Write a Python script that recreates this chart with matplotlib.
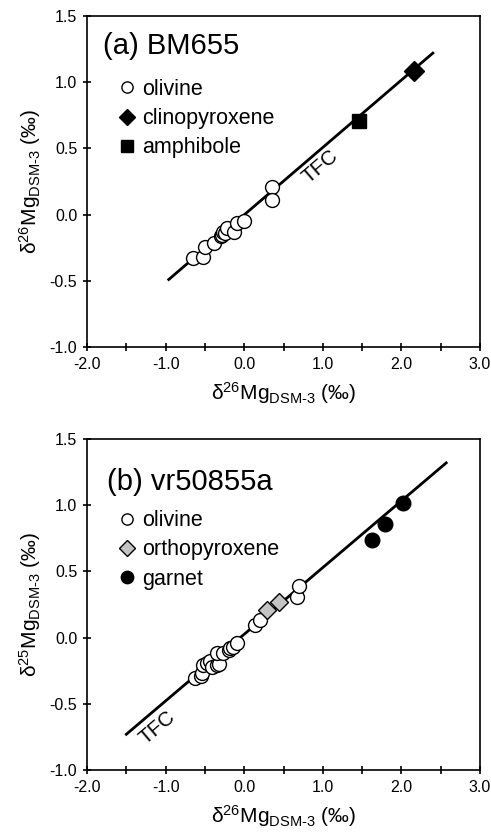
import numpy as np
import matplotlib
matplotlib.use("Agg")
import matplotlib.pyplot as plt
from matplotlib.lines import Line2D

plt.rcParams['font.family'] = ['Liberation Sans', 'DejaVu Sans']
plt.rcParams['mathtext.fontset'] = 'custom'
plt.rcParams['mathtext.rm'] = 'Liberation Sans'
plt.rcParams['mathtext.it'] = 'Liberation Sans:italic'

# ---- (a) BM655 ----
a_ol_x = [-0.648, -0.528, -0.499, -0.384, -0.30, -0.286, -0.266, -0.25, -0.223,
          -0.130, -0.095, -0.003, 0.35, 0.35]
a_ol_y = [-0.330, -0.318, -0.242, -0.217, -0.16, -0.154, -0.129, -0.14, -0.103,
          -0.129, -0.061, -0.046, 0.21, 0.11]
a_cpx_x = [2.165]
a_cpx_y = [1.085]
a_amp_x = [1.465]
a_amp_y = [0.71]
a_tfc_x = [-0.96, 2.40]
a_tfc_y = [-0.49, 1.22]

# ---- (b) vr50855a ----
b_ol_x = [-0.626, -0.55, -0.541, -0.520, -0.477, -0.44, -0.413, -0.350, -0.32, -0.350,
          -0.266, -0.19, -0.181, -0.14, -0.088, 0.137, 0.20, 0.676, 0.70]
b_ol_y = [-0.307, -0.29, -0.270, -0.207, -0.194, -0.18, -0.220, -0.207, -0.20, -0.119,
          -0.119, -0.09, -0.081, -0.07, -0.043, 0.096, 0.133, 0.31, 0.39]
b_opx_x = [0.286, 0.447]
b_opx_y = [0.208, 0.266]
b_grt_x = [1.622, 1.79, 2.025]
b_grt_y = [0.737, 0.856, 1.014]
b_tfc_x = [-1.50, 2.57]
b_tfc_y = [-0.73, 1.32]

xlab = r'δ$^{26}$Mg$_{\mathrm{DSM\text{-}3}}$ (‰)'
ylab_a = r'δ$^{26}$Mg$_{\mathrm{DSM\text{-}3}}$ (‰)'
ylab_b = r'δ$^{25}$Mg$_{\mathrm{DSM\text{-}3}}$ (‰)'

fig = plt.figure(figsize=(4.91, 8.35), dpi=100)
ax1 = fig.add_axes([0.1772, 0.5844, 0.8004, 0.3964])
ax2 = fig.add_axes([0.1772, 0.0778, 0.8004, 0.3964])


def style(ax, ylab):
    ax.set_xlim(-2, 3)
    ax.set_ylim(-1, 1.5)
    ax.set_xticks(np.arange(-2, 3.01, 0.5))
    ax.set_xticklabels(['%.1f' % v if abs(v - round(v)) < 1e-9 else '' for v in np.arange(-2, 3.01, 0.5)])
    ax.set_yticks(np.arange(-1, 1.51, 0.5))
    ax.set_yticklabels(['%.1f' % v for v in np.arange(-1, 1.51, 0.5)])
    ax.tick_params(direction='inout', length=6, width=1.2, labelsize=11.5, pad=4,
                   top=False, right=False)
    for s in ax.spines.values():
        s.set_linewidth(1.2)
    ax.set_xlabel(xlab, fontsize=15, labelpad=6)
    ax.set_ylabel(ylab, fontsize=15, labelpad=5)


# panel a
ax1.plot(a_tfc_x, a_tfc_y, color='black', lw=2, zorder=1)
ax1.plot(a_ol_x, a_ol_y, 'o', ms=10, mfc='white', mec='black', mew=1, ls='none', zorder=2)
ax1.plot(a_cpx_x, a_cpx_y, 'D', ms=10, color='black', ls='none', zorder=3)
ax1.plot(a_amp_x, a_amp_y, 's', ms=10.5, color='black', ls='none', zorder=3)
ax1.text(0.97, 0.36, 'TFC', fontsize=15, rotation=np.degrees(np.arctan(0.51)),
         transform_rotates_text=True, rotation_mode='anchor', ha='center', va='center')
ax1.text(0.04, 0.91, '(a) BM655', transform=ax1.transAxes, fontsize=21, va='center')
h1 = [Line2D([], [], marker='o', ms=9.5, mfc='white', mec='black', mew=1, ls='none'),
      Line2D([], [], marker='D', ms=10, color='black', ls='none'),
      Line2D([], [], marker='s', ms=10, color='black', ls='none')]
ax1.legend(h1, ['olivine', 'clinopyroxene', 'amphibole'], loc='upper left',
           bbox_to_anchor=(0.08, 0.81), frameon=False, fontsize=15.5, markerscale=0.85,
           handlelength=0.8, handletextpad=0.3, labelspacing=0.38, borderaxespad=0, borderpad=0)
style(ax1, ylab_a)

# panel b
ax2.plot(b_tfc_x, b_tfc_y, color='black', lw=2, zorder=1)
ax2.plot(b_ol_x, b_ol_y, 'o', ms=10, mfc='white', mec='black', mew=1, ls='none', zorder=2)
ax2.plot(b_opx_x, b_opx_y, 'D', ms=9, mfc='#c4c4c4', mec='black', mew=1, ls='none', zorder=3)
ax2.plot(b_grt_x, b_grt_y, 'o', ms=10.5, color='black', ls='none', zorder=3)
ax2.text(-1.10, -0.68, 'TFC', fontsize=15, rotation=np.degrees(np.arctan(0.505)),
         transform_rotates_text=True, rotation_mode='anchor', ha='center', va='center')
ax2.text(0.05, 0.87, '(b) vr50855a', transform=ax2.transAxes, fontsize=21, va='center')
h2 = [Line2D([], [], marker='o', ms=9.5, mfc='white', mec='black', mew=1, ls='none'),
      Line2D([], [], marker='D', ms=9, mfc='#c4c4c4', mec='black', mew=1, ls='none'),
      Line2D([], [], marker='o', ms=10.5, color='black', ls='none')]
ax2.legend(h2, ['olivine', 'orthopyroxene', 'garnet'], loc='upper left',
           bbox_to_anchor=(0.08, 0.785), frameon=False, fontsize=15.5, markerscale=0.85,
           handlelength=0.8, handletextpad=0.3, labelspacing=0.38, borderaxespad=0, borderpad=0)
style(ax2, ylab_b)

fig.savefig('out.png', dpi=100)
